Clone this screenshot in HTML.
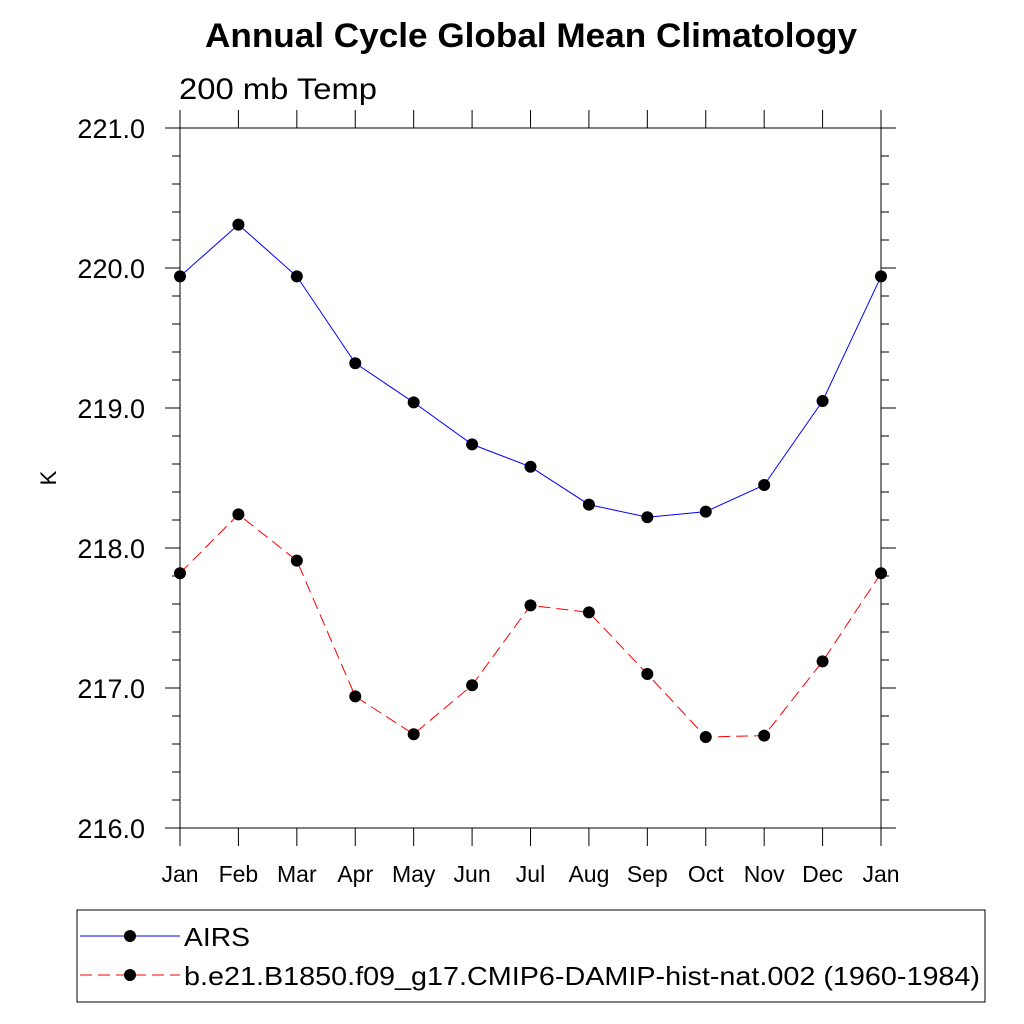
<!DOCTYPE html>
<html><head><meta charset="utf-8"><style>
html,body{margin:0;padding:0;background:#fff;}
svg{display:block;font-family:"Liberation Sans",sans-serif;}
</style></head><body>
<svg id="chart" width="1024" height="1024" viewBox="0 0 1024 1024">
<text x="205" y="47" font-size="34" font-weight="bold" textLength="652" lengthAdjust="spacingAndGlyphs">Annual Cycle Global Mean Climatology</text>
<text x="179" y="99" font-size="30" textLength="198" lengthAdjust="spacingAndGlyphs">200 mb Temp</text>
<text x="0" y="0" font-size="22" transform="translate(56,478) rotate(-90)" text-anchor="middle">K</text>
<g id="axes"></g>
<g id="series"></g>
<rect x="77" y="910" width="908" height="92" fill="none" stroke="#000" stroke-width="1"/>
<g>
<line x1="80" y1="936" x2="180" y2="936" stroke="#0000ff" stroke-width="1"/>
<circle cx="130" cy="936" r="6" fill="#000"/>
<text x="184" y="946" font-size="26" textLength="66" lengthAdjust="spacingAndGlyphs">AIRS</text>
</g>
<g>
<line x1="80" y1="975" x2="180" y2="975" stroke="#ff0000" stroke-width="1" stroke-dasharray="12,6"/>
<circle cx="130" cy="975" r="6" fill="#000"/>
<text x="184" y="985" font-size="26" textLength="796" lengthAdjust="spacingAndGlyphs">b.e21.B1850.f09_g17.CMIP6-DAMIP-hist-nat.002 (1960-1984)</text>
</g>
</svg>
<script>
const months = ["Jan","Feb","Mar","Apr","May","Jun","Jul","Aug","Sep","Oct","Nov","Dec","Jan"];
const airs = [219.94,220.31,219.94,219.32,219.04,218.74,218.58,218.31,218.22,218.26,218.45,219.05,219.94];
const model = [217.82,218.24,217.91,216.94,216.67,217.02,217.59,217.54,217.10,216.65,216.66,217.19,217.82];
const yTickLabels = ["216.0","217.0","218.0","219.0","220.0","221.0"];
const yMin = 216, yMax = 221;
const L=180,R=881,T=128,B=828;
const NS="http://www.w3.org/2000/svg";
function xs(i){return L+(R-L)*i/(months.length-1);}
function ys(v){return B-(v-yMin)/(yMax-yMin)*(B-T);}
function mk(tag,attrs,parent){const e=document.createElementNS(NS,tag);for(const k in attrs)e.setAttribute(k,attrs[k]);parent.appendChild(e);return e;}
const ax=document.getElementById('axes');
const frame=mk('rect',{x:L,y:T,width:R-L,height:B-T,fill:'none',stroke:'#000','stroke-width':1},ax);


months.forEach((m,i)=>{
  const x=xs(i);
  mk('line',{x1:x,y1:B,x2:x,y2:B+18,stroke:'#000'},ax);
  mk('line',{x1:x,y1:T,x2:x,y2:T-18,stroke:'#000'},ax);
  const t=mk('text',{x:x,y:B+54,'text-anchor':'middle','font-size':23},ax);
  t.textContent=m;
  
  
});
for(let v=yMin; v<=yMax+1e-6; v+=0.2){
  const y=ys(v);
  const major=Math.abs(v-Math.round(v))<1e-6;
  const len=major?15:8;
  mk('line',{x1:L-len,y1:y,x2:L,y2:y,stroke:'#000'},ax);
  mk('line',{x1:R,y1:y,x2:R+len,y2:y,stroke:'#000'},ax);
}
yTickLabels.forEach(s=>{
  const v=parseFloat(s);
  const t=mk('text',{x:145,y:ys(v)+10,'text-anchor':'end','font-size':27},ax);
  t.textContent=s;
  
  
});
const sg=document.getElementById('series');
function drawSeries(vals,color,dash,name){
  const pts=vals.map((v,i)=>xs(i)+','+ys(v)).join(' ');
  const pl=mk('polyline',{points:pts,fill:'none',stroke:color,'stroke-width':1,'stroke-dasharray':dash},sg);
  
  
  vals.forEach((v,i)=>{
    const c=mk('circle',{cx:xs(i),cy:ys(v),r:6,fill:'#000'},sg);
    
    
  });
}
drawSeries(airs,'#0000ff','none','airs');
drawSeries(model,'#ff0000','12,6','model');
</script>
</body></html>
